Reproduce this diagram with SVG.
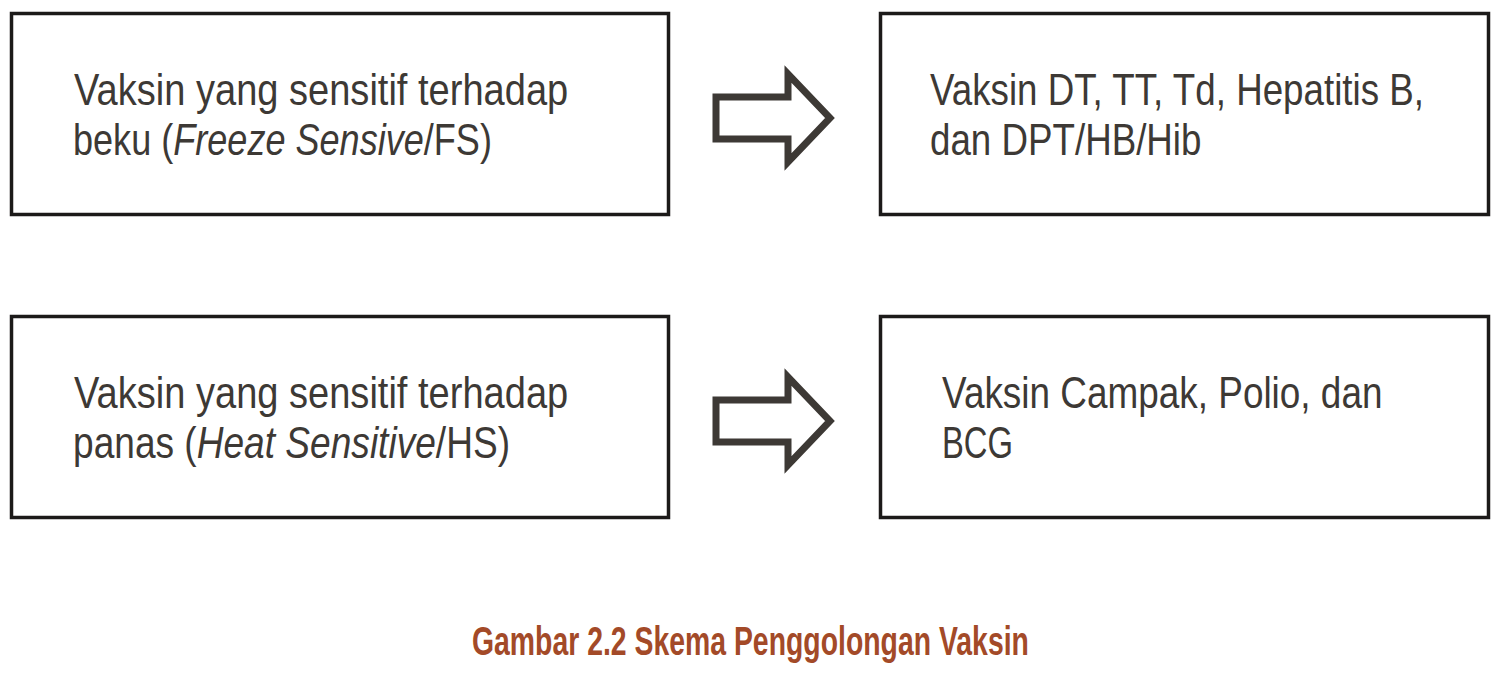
<svg xmlns="http://www.w3.org/2000/svg" width="1502" height="676" viewBox="0 0 1502 676">
<style>
.box{fill:#fff;stroke:#1c1a19;stroke-width:3.5}
.t{font-family:"Liberation Sans",Arial,sans-serif;font-size:44px;fill:#3d3935}
.i{font-style:italic}
.arr{fill:#fff;stroke:#3d3935;stroke-width:7;stroke-linejoin:miter;stroke-miterlimit:10}
.cap{font-family:"Liberation Sans",Arial,sans-serif;font-size:40px;font-weight:bold;fill:#a34a28}
</style>
<rect width="1502" height="676" fill="#fff"/>
<g id="node-fs">
<rect class="box" x="11.5" y="13.5" width="657" height="201"/>
<text class="t" transform="translate(74,105) scale(0.865,1)">Vaksin yang sensitif terhadap</text>
<text class="t" transform="translate(73,155) scale(0.82,1)">beku (<tspan class="i">Freeze Sensive</tspan>/FS)</text>
</g>
<g id="node-fs-list">
<rect class="box" x="880.5" y="13.5" width="608" height="201"/>
<text class="t" transform="translate(930,105) scale(0.835,1)">Vaksin DT, TT, Td, Hepatitis B,</text>
<text class="t" transform="translate(930,155) scale(0.835,1)">dan DPT/HB/Hib</text>
</g>
<g id="node-hs">
<rect class="box" x="11.5" y="316.5" width="657" height="201"/>
<text class="t" transform="translate(74,408) scale(0.865,1)">Vaksin yang sensitif terhadap</text>
<text class="t" transform="translate(73,458) scale(0.843,1)">panas (<tspan class="i">Heat Sensitive</tspan>/HS)</text>
</g>
<g id="node-hs-list">
<rect class="box" x="880.5" y="316.5" width="608" height="201"/>
<text class="t" transform="translate(942,408) scale(0.839,1)">Vaksin Campak, Polio, dan</text>
<text class="t" transform="translate(942,458) scale(0.745,1)">BCG</text>
</g>
<g id="connectors">
<polygon class="arr" points="716,97 788,97 788,74 830,118 788,162 788,139 716,139"/>
<polygon class="arr" points="716,400 788,400 788,377 830,421 788,465 788,442 716,442"/>
</g>
<text class="cap" transform="translate(472,655) scale(0.710,1)">Gambar 2.2 Skema Penggolongan Vaksin</text>
</svg>
